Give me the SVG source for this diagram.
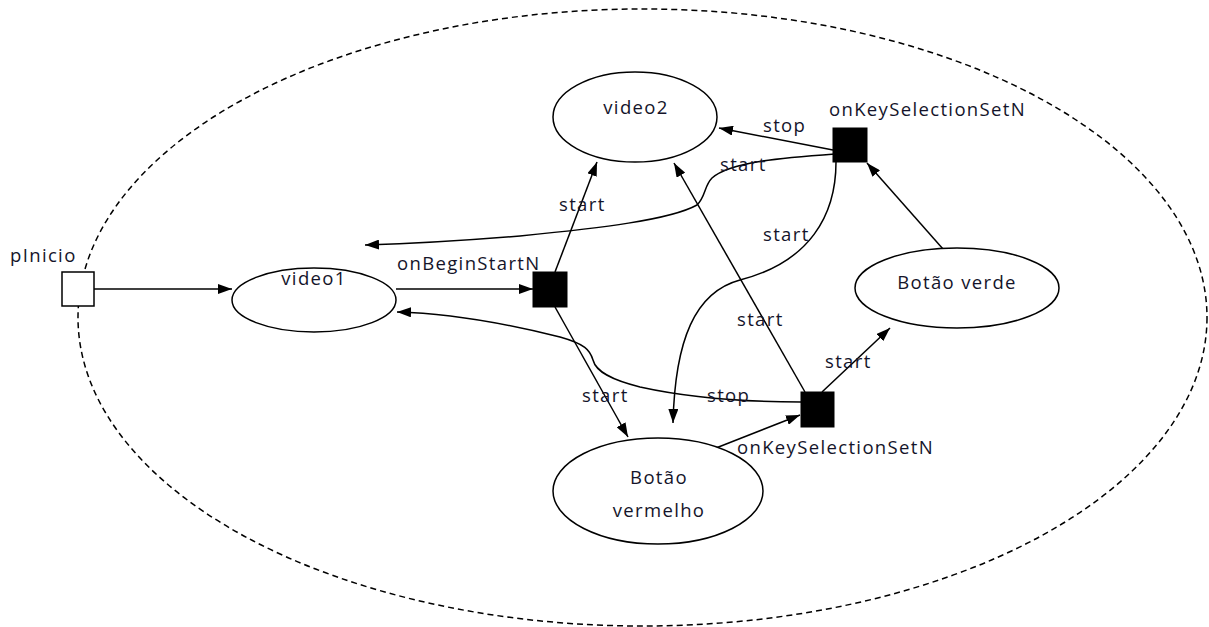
<svg xmlns="http://www.w3.org/2000/svg" width="1209" height="627" viewBox="0 0 1209 627">
<style>
.n{fill:#fff;stroke:#000;stroke-width:1.5}
.b{fill:#000;stroke:#000;stroke-width:1}
.c{fill:none;stroke:#000;stroke-width:1.5}
text{font-family:"Open Sans","Liberation Sans",sans-serif;font-size:18.5px;letter-spacing:1.35px;fill:#14142a}
.m{text-anchor:middle}
</style>
<defs>
<marker id="ah" viewBox="0 0 14 10" refX="14" refY="5" markerWidth="14" markerHeight="10" markerUnits="userSpaceOnUse" orient="auto">
<path d="M0,0 L14,5 L0,10 Z" fill="#000"/>
</marker>
</defs>
<rect width="1209" height="627" fill="#fff"/>
<g id="boundary">
<ellipse cx="642.5" cy="317.5" rx="564.5" ry="308.5" fill="none" stroke="#000" stroke-width="1.5" stroke-dasharray="6,4"/>
</g>
<g id="connectors">
<path class="c" d="M94,289 L232,289" marker-end="url(#ah)"/>
<path class="c" d="M396,289 L533,289" marker-end="url(#ah)"/>
<path class="c" d="M555,272 L597,162" marker-end="url(#ah)"/>
<path class="c" d="M555,307 L628,437" marker-end="url(#ah)"/>
<path class="c" d="M805,392 L674,163" marker-end="url(#ah)"/>
<path class="c" d="M822,392 L890,328" marker-end="url(#ah)"/>
<path class="c" d="M716,448 L800,415" marker-end="url(#ah)"/>
<path class="c" d="M801,402 C740,402 690,398 640,387 C612,380 596,372 593,360 C590,350 585,344 560,337 C500,322 440,313 397,312" marker-end="url(#ah)"/>
<path class="c" d="M833,150 L719,128" marker-end="url(#ah)"/>
<path class="c" d="M835,154 C780,158 730,162 712,178 C704,186 706,196 697,205 C670,220 600,228 520,236 C460,241 400,244 365,245" marker-end="url(#ah)"/>
<path class="c" d="M836,162 C836,215 810,262 740,280 C695,292 675,340 673,423" marker-end="url(#ah)"/>
<path class="c" d="M943,249 L867,163" marker-end="url(#ah)"/>
</g>
<g id="pInicio">
<rect class="n" x="62" y="272" width="32" height="34"/>
<text x="10" y="262">pInicio</text>
</g>
<g id="video1">
<ellipse class="n" cx="314" cy="300" rx="82" ry="32"/>
<text class="m" x="314" y="285">video1</text>
</g>
<g id="video2">
<ellipse class="n" cx="635" cy="117" rx="82" ry="45"/>
<text class="m" x="636" y="114">video2</text>
</g>
<g id="botaoVerde">
<ellipse class="n" cx="957" cy="288" rx="102" ry="40"/>
<text class="m" x="957" y="289">Botão verde</text>
</g>
<g id="botaoVermelho">
<ellipse class="n" cx="658" cy="491" rx="105" ry="53"/>
<text class="m" x="659" y="484">Botão</text>
<text class="m" x="659" y="517">vermelho</text>
</g>
<g id="onBeginStartN">
<rect class="b" x="533" y="272" width="34" height="35"/>
<text x="397" y="270">onBeginStartN</text>
</g>
<g id="onKeySelTop">
<rect class="b" x="833" y="128" width="34" height="34"/>
<text x="829" y="116">onKeySelectionSetN</text>
</g>
<g id="onKeySelBottom">
<rect class="b" x="801" y="392" width="33" height="35"/>
<text x="737" y="454">onKeySelectionSetN</text>
</g>
<g id="labels">
<text x="763" y="132">stop</text>
<text x="720" y="171">start</text>
<text x="559" y="211">start</text>
<text x="763" y="241">start</text>
<text x="737" y="326">start</text>
<text x="825" y="368">start</text>
<text x="707" y="402">stop</text>
<text x="582" y="402">start</text>
</g>
</svg>
